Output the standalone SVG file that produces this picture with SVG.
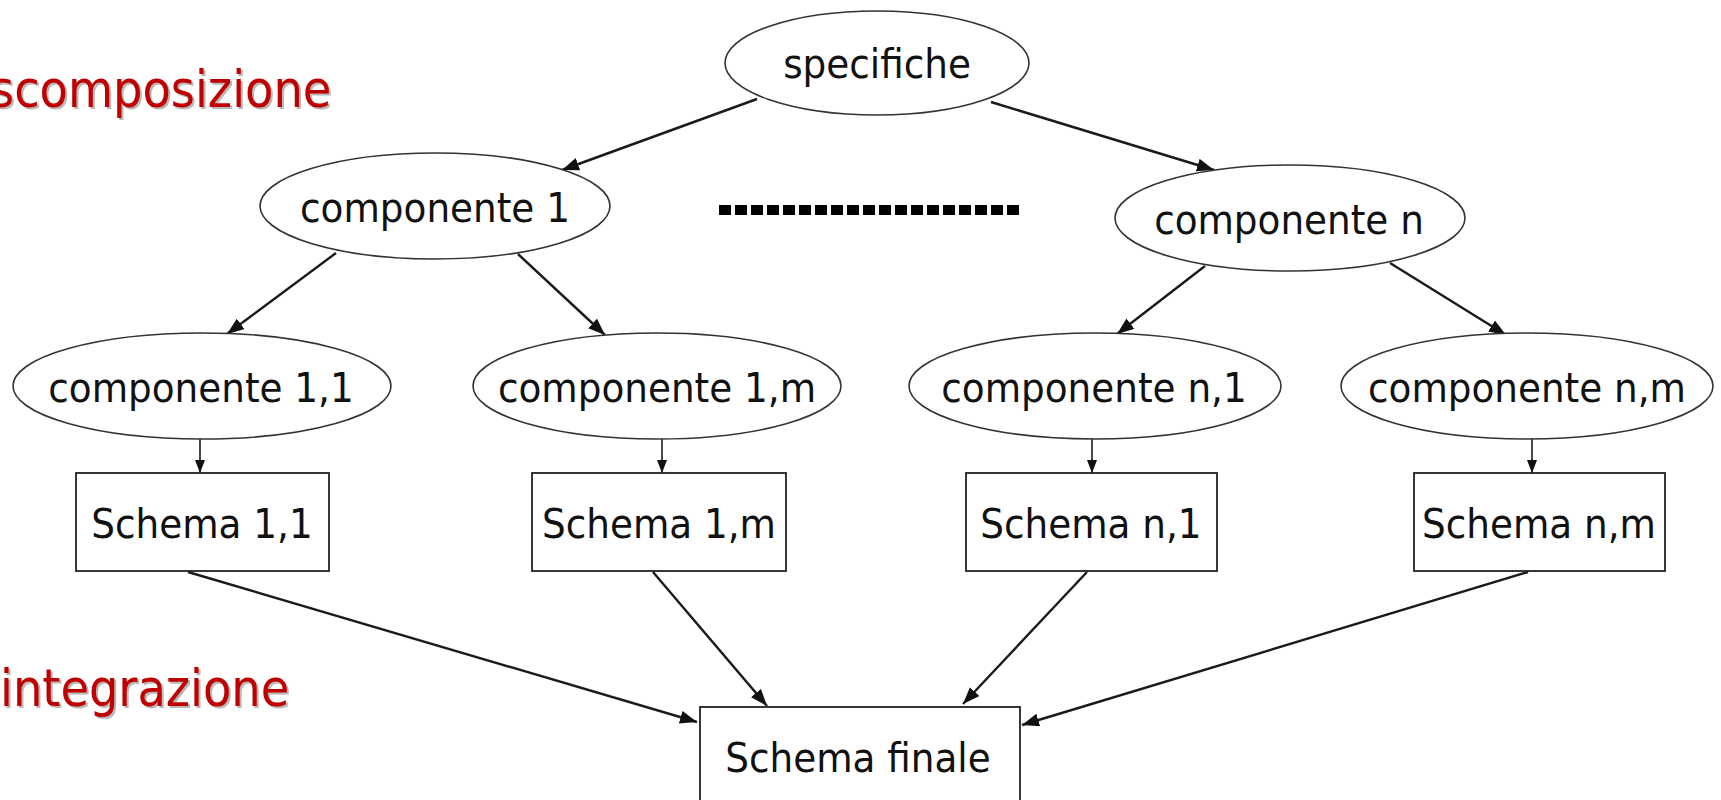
<svg xmlns="http://www.w3.org/2000/svg" width="1721" height="800" viewBox="0 0 1721 800">
<defs>
<style>
.node ellipse{fill:#fff;stroke:#333;stroke-width:1.6}
.node rect{fill:#fff;stroke:#222;stroke-width:1.8}
.lbl{font-family:"DejaVu Sans Condensed","DejaVu Sans",sans-serif;font-stretch:condensed;font-size:41.5px;fill:#111;text-anchor:middle}
.red{font-family:"DejaVu Sans Condensed","DejaVu Sans",sans-serif;font-stretch:condensed;font-size:51.5px;fill:#c00000}
.shadow{font-family:"DejaVu Sans Condensed","DejaVu Sans",sans-serif;font-stretch:condensed;font-size:51.5px;fill:#b8b8b8}
.conn line{stroke:#1a1a1a;stroke-width:2.4;marker-end:url(#ah)}
.conn line.thin{stroke-width:1.6;marker-end:url(#ahs)}
</style>
<marker id="ah" markerUnits="userSpaceOnUse" markerWidth="19" markerHeight="14" refX="17" refY="6.5" orient="auto">
<path d="M0,0 L17,6.5 L0,13 z" fill="#111"/>
</marker>
<marker id="ahs" markerUnits="userSpaceOnUse" markerWidth="14" markerHeight="12" refX="13" refY="5" orient="auto">
<path d="M0,0 L13,5 L0,10 z" fill="#111"/>
</marker>
</defs>
<rect width="1721" height="800" fill="#fff"/>
<g id="labels">
<text class="shadow" x="-8" y="108.5">scomposizione</text>
<text class="red" x="-10" y="106.5">scomposizione</text>
<text class="shadow" x="2" y="708">integrazione</text>
<text class="red" x="0" y="706">integrazione</text>
</g>
<g id="dots">
<line x1="719" y1="210" x2="1023" y2="210" stroke="#000" stroke-width="10" stroke-dasharray="12 4"/>
</g>
<g class="conn" id="connectors">
<line x1="757" y1="99" x2="562" y2="170"/>
<line x1="991" y1="102" x2="1214" y2="170"/>
<line x1="336" y1="253" x2="227" y2="334"/>
<line x1="518" y1="254" x2="605" y2="335"/>
<line x1="1205" y1="266" x2="1117" y2="334"/>
<line x1="1390" y1="263" x2="1506" y2="335"/>
<line class="thin" x1="200" y1="439" x2="200" y2="473"/>
<line class="thin" x1="662" y1="439" x2="662" y2="473"/>
<line class="thin" x1="1092" y1="439" x2="1092" y2="473"/>
<line class="thin" x1="1532" y1="439" x2="1532" y2="473"/>
<line x1="188" y1="572" x2="697" y2="722"/>
<line x1="653" y1="572" x2="767" y2="706"/>
<line x1="1087" y1="572" x2="963" y2="704"/>
<line x1="1528" y1="572" x2="1022" y2="725"/>
</g>
<g class="node" id="specifiche"><ellipse cx="877" cy="63" rx="152" ry="52"/><text class="lbl" x="877" y="78">specifiche</text></g>
<g class="node" id="comp1"><ellipse cx="435" cy="206" rx="175" ry="53"/><text class="lbl" x="435" y="222">componente 1</text></g>
<g class="node" id="compn"><ellipse cx="1290" cy="218" rx="175" ry="53"/><text class="lbl" x="1289" y="234">componente n</text></g>
<g class="node" id="comp11"><ellipse cx="202" cy="386" rx="189" ry="53"/><text class="lbl" x="201" y="402">componente 1,1</text></g>
<g class="node" id="comp1m"><ellipse cx="657" cy="386" rx="184" ry="53"/><text class="lbl" x="657" y="402">componente 1,m</text></g>
<g class="node" id="compn1"><ellipse cx="1095" cy="386" rx="186" ry="53"/><text class="lbl" x="1094" y="402">componente n,1</text></g>
<g class="node" id="compnm"><ellipse cx="1527" cy="386" rx="186" ry="53"/><text class="lbl" x="1527" y="402">componente n,m</text></g>
<g class="node" id="schema11"><rect x="76" y="473" width="253" height="98"/><text class="lbl" x="202" y="538">Schema 1,1</text></g>
<g class="node" id="schema1m"><rect x="532" y="473" width="254" height="98"/><text class="lbl" x="659" y="538">Schema 1,m</text></g>
<g class="node" id="scheman1"><rect x="966" y="473" width="251" height="98"/><text class="lbl" x="1091" y="538">Schema n,1</text></g>
<g class="node" id="schemanm"><rect x="1414" y="473" width="251" height="98"/><text class="lbl" x="1539" y="538">Schema n,m</text></g>
<g class="node" id="schemafinale"><rect x="700" y="707" width="320" height="110"/><text class="lbl" x="858" y="772">Schema finale</text></g>
</svg>
